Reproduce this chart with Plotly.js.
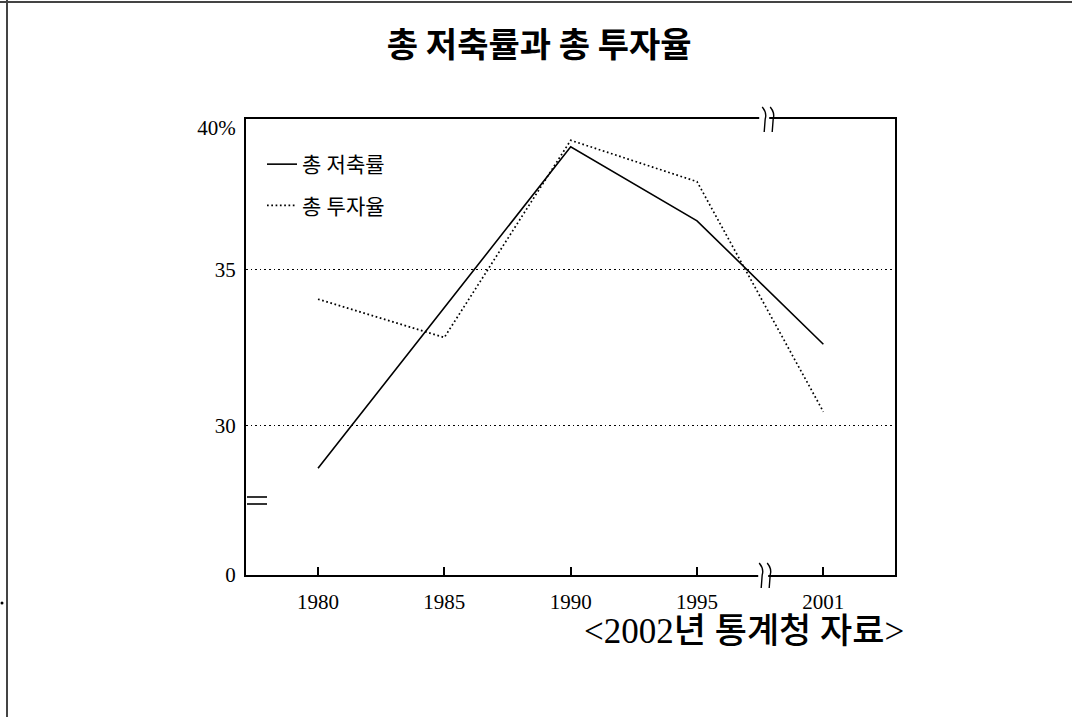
<!DOCTYPE html>
<html>
<head>
<meta charset="utf-8">
<script src="https://cdn.plot.ly/plotly-3.0.1.min.js"></script>
<style>html,body{margin:0;padding:0;background:#fff;}#chart{width:1072px;height:717px;}</style>
</head>
<body>
<div id="chart"></div>
<script>
// ---- data ----
const years = ['1980', '1985', '1990', '1995', '2001'];
const savingRate = [28.62, 33.8, 38.96, 36.58, 32.61];   // 총 저축률
const investRate = [34.06, 32.83, 39.17, 37.84, 30.44];  // 총 투자율
const seriesNames = ['총 저축률', '총 투자율'];
const yTickLabels = ['0', '30', '35', '40%'];
const chartTitle = '총 저축률과 총 투자율';
const sourceText = '&lt;2002년 통계청 자료&gt;';

// ---- layout helpers ----
const W = 1072, H = 717;
const M = {l: 246, r: 177, t: 119, b: 142};
const PW = W - M.l - M.r, PH = H - M.t - M.b;
const px2x = p => (p - M.l) / PW;
const px2y = p => (H - M.b - p) / PH;

const yMin = 25.19, yMax = 39.855;   // broken axis: bottom edge labelled 0
const yTickVals = [yMin, 30, 35, 39.57];

const serif = '"Liberation Serif", "Noto Sans CJK KR", serif';
const black = '#000';

const traces = [
  {x: years, y: savingRate, name: seriesNames[0], type: 'scatter', mode: 'lines',
   line: {color: black, width: 1.6}, legendgroup: 'a', hoverinfo: 'x+y'},
  {x: years, y: investRate, name: seriesNames[1], type: 'scatter', mode: 'lines',
   line: {color: black, width: 1.7, dash: '1.7px,2.6px'}, legendgroup: 'b', hoverinfo: 'x+y'}
];

// axis-break decoration
function breakPath() { return 'M0,12 Q5,6 3,0 L2,-13'; }
const shapes = [];
shapes.push({type: 'rect', xref: 'x', yref: 'paper', xsizemode: 'pixel', ysizemode: 'pixel',
  xanchor: 3.5, yanchor: 1, x0: -1, x1: 9, y0: -3, y1: 3, fillcolor: '#fff', line: {width: 0}, layer: 'above'});
shapes.push({type: 'rect', xref: 'x', yref: 'paper', xsizemode: 'pixel', ysizemode: 'pixel',
  xanchor: 3.5, yanchor: 0, x0: -2, x1: 8, y0: -3, y1: 3, fillcolor: '#fff', line: {width: 0}, layer: 'above'});
[[1, 2], [1, 10], [0, -1], [0, 7]].forEach(([ya, dx]) => {
  shapes.push({type: 'path', xref: 'x', yref: 'paper', xsizemode: 'pixel', ysizemode: 'pixel',
    xanchor: 3.5, yanchor: ya,
    path: breakPath().replace(/(-?\d+(?:\.\d+)?),(-?\d+(?:\.\d+)?)/g, (m, a, b) => (parseFloat(a) + dx) + ',' + b),
    line: {color: black, width: 1.4}, layer: 'above'});
});
// "=" on left axis
[497, 504].forEach(py => shapes.push({type: 'line', xref: 'paper', yref: 'paper',
  x0: px2x(247), x1: px2x(267), y0: px2y(py), y1: px2y(py), line: {color: black, width: 1.6}}));
// page frame (top & left)
shapes.push({type: 'line', xref: 'paper', yref: 'paper', x0: px2x(0), x1: px2x(W), y0: px2y(2), y1: px2y(2),
  line: {color: '#444', width: 2}});
shapes.push({type: 'line', xref: 'paper', yref: 'paper', x0: px2x(7), x1: px2x(7), y0: px2y(0), y1: px2y(H),
  line: {color: '#444', width: 2}});
shapes.push({type: 'circle', xref: 'paper', yref: 'paper', x0: px2x(0.5), x1: px2x(3.5), y0: px2y(601.5), y1: px2y(604.5),
  fillcolor: black, line: {width: 0}});

const layout = {
  width: W, height: H,
  margin: M,
  paper_bgcolor: '#fff', plot_bgcolor: '#fff',
  showlegend: true,
  title: {text: chartTitle, xref: 'container', x: 0.503, xanchor: 'center', yref: 'container', y: 1 - 45 / H, yanchor: 'middle',
    font: {family: '"Noto Sans CJK KR", sans-serif', size: 34, color: black, weight: 700}},
  xaxis: {type: 'category', range: [-0.57, 4.567], showgrid: false, zeroline: false,
    showline: true, linecolor: black, linewidth: 2, mirror: true,
    ticks: 'inside', ticklen: 8, tickwidth: 1.5, tickcolor: black,
    tickfont: {family: serif, size: 21, color: black}, ticklabelstandoff: 7, fixedrange: true},
  yaxis: {range: [yMin, yMax], showgrid: false, zeroline: false,
    showline: true, linecolor: black, linewidth: 2, mirror: true,
    tickvals: yTickVals, ticktext: yTickLabels, ticks: '',
    tickfont: {family: serif, size: 21, color: black}, ticklabelstandoff: 4,
    minor: {tickvals: [30, 35], showgrid: true, gridcolor: black, gridwidth: 1, griddash: '1.6px,3px', ticks: ''},
    fixedrange: true},
  legend: {x: px2x(262), xanchor: 'left', y: px2y(144), yanchor: 'top', bgcolor: 'rgba(0,0,0,0)',
    borderwidth: 0, traceorder: 'grouped', tracegroupgap: 11, itemwidth: 30,
    font: {family: serif, size: 21, color: black}},
  shapes: shapes,
  annotations: [
    {text: sourceText, xref: 'paper', yref: 'paper', x: px2x(906), xanchor: 'right', y: px2y(631), yanchor: 'middle',
     showarrow: false, font: {family: serif, size: 35, color: black, weight: 500}}
  ]
};

Plotly.newPlot('chart', traces, layout, {displayModeBar: false});
</script>
</body>
</html>
